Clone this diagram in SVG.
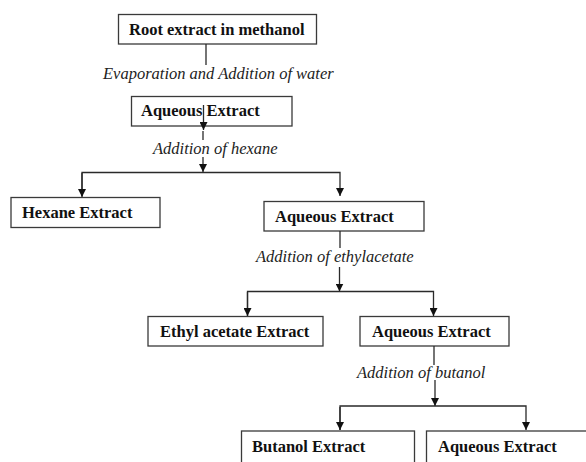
<svg xmlns="http://www.w3.org/2000/svg" width="586" height="462" viewBox="0 0 586 462">
<style>
.box{fill:#fff;stroke:#3a3a3a;stroke-width:1.3}
.t{font-family:"Liberation Serif","Times New Roman",serif;font-weight:bold;font-size:16.5px;fill:#111}
.l{font-family:"Liberation Serif","Times New Roman",serif;font-style:italic;font-size:16.5px;fill:#222}
.c{fill:none;stroke:#2a2a2a;stroke-width:1.3}
</style>
<defs>
<marker id="ah" viewBox="0 0 10 10" refX="10" refY="5" markerWidth="8" markerHeight="8" markerUnits="userSpaceOnUse" orient="auto">
<path d="M0,0 L10,5 L0,10 z" fill="#111"/>
</marker>
</defs>
<rect width="586" height="462" fill="#fff"/>
<g id="n-root"><rect class="box" x="118.5" y="14.5" width="198" height="29.5"/><text class="t" x="129" y="35">Root extract in methanol</text></g>
<g id="n-aq1"><rect class="box" x="131.5" y="96.5" width="160.5" height="29.5"/><text class="t" x="141" y="116">Aqueous Extract</text></g>
<g id="n-hex"><rect class="box" x="11" y="197.5" width="149" height="30"/><text class="t" x="22" y="218">Hexane Extract</text></g>
<g id="n-aq2"><rect class="box" x="264" y="201.5" width="160" height="29.5"/><text class="t" x="275" y="222">Aqueous Extract</text></g>
<g id="n-eth"><rect class="box" x="148" y="316.5" width="175" height="29.5"/><text class="t" x="160" y="337">Ethyl acetate Extract</text></g>
<g id="n-aq3"><rect class="box" x="360" y="316.5" width="149" height="29.5"/><text class="t" x="372" y="337">Aqueous Extract</text></g>
<g id="n-but"><rect class="box" x="241.5" y="431" width="173" height="40"/><text class="t" x="252" y="452">Butanol Extract</text></g>
<g id="n-aq4"><rect class="box" x="426.5" y="431" width="170" height="40"/><text class="t" x="438" y="452">Aqueous Extract</text></g>
<g id="connectors">
<path class="c" d="M206,44 V65"/>
<text class="l" x="103" y="79">Evaporation and Addition of water</text>
<path class="c" d="M203.5,105 V130" marker-end="url(#ah)"/>
<path class="c" d="M203,131 V140"/>
<text class="l" x="153" y="154">Addition of hexane</text>
<path class="c" d="M203,157 V172" marker-end="url(#ah)"/>
<path class="c" d="M82,196 V172.5 H340 V196" marker-end="url(#ah)"/>
<path class="c" d="M82,173 V197" marker-end="url(#ah)"/>
<path class="c" d="M340,231 V248"/>
<text class="l" x="256" y="262">Addition of ethylacetate</text>
<path class="c" d="M339.5,267 V291.5" marker-end="url(#ah)"/>
<path class="c" d="M247.5,316 V291.5 H433.5 V316" marker-end="url(#ah)"/>
<path class="c" d="M247.5,292 V316" marker-end="url(#ah)"/>
<path class="c" d="M434,346 V365"/>
<text class="l" x="357" y="378">Addition of butanol</text>
<path class="c" d="M435,380 V406" marker-end="url(#ah)"/>
<path class="c" d="M340,430 V406 H526 V430" marker-end="url(#ah)"/>
<path class="c" d="M340,407 V430" marker-end="url(#ah)"/>
</g>
</svg>
